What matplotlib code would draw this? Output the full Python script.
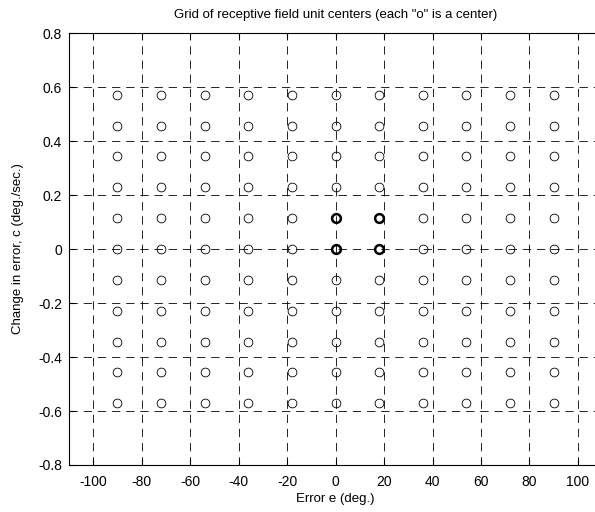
import numpy as np
import matplotlib
matplotlib.use('Agg')
import matplotlib.pyplot as plt

plt.rcParams['font.family'] = ['Liberation Sans', 'DejaVu Sans']
plt.rcParams['axes.unicode_minus'] = False

# centros de las unidades (error e y cambio en el error c)
e_centers = [-90, -72, -54, -36, -18, 0, 18, 36, 54, 72, 90]
c_centers = [-0.5714, -0.4571, -0.3429, -0.2286, -0.1143, 0.0,
             0.1143, 0.2286, 0.3429, 0.4571, 0.5714]

# centros destacados (en negrita)
bold_e = [0, 18, 0, 18]
bold_c = [0.0, 0.0, 0.1143, 0.1143]

x_ticks = [-100, -80, -60, -40, -20, 0, 20, 40, 60, 80, 100]
y_ticks = [-0.8, -0.6, -0.4, -0.2, 0, 0.2, 0.4, 0.6, 0.8]
y_ticklabels = ['-0.8', '-0.6', '-0.4', '-0.2', '0', '0.2', '0.4', '0.6', '0.8']

fig = plt.figure(figsize=(5.95, 5.12), dpi=100)
ax = fig.add_axes([0.116, 0.0918, 0.896, 0.8437])

E, C = np.meshgrid(e_centers, c_centers)
ax.plot(E.ravel(), C.ravel(), 'o', mfc='none', mec='black', ms=6.3, mew=0.6,
        linestyle='none')
ax.plot(bold_e, bold_c, 'o', mfc='none', mec='black', ms=6.3, mew=1.8,
        linestyle='none')

ax.set_xlim(-110, 110)
ax.set_ylim(-0.8, 0.8)
ax.set_xticks(x_ticks)
ax.set_yticks(y_ticks)
ax.set_yticklabels(y_ticklabels)
ax.tick_params(direction='in', top=True, right=True, labelsize=10, length=4)
ax.tick_params(axis='x', pad=7)
ax.tick_params(axis='y', pad=5)
ax.grid(True, color='black', linestyle=(0, (10, 7)), linewidth=0.6)
ax.set_axisbelow(True)
for s in ax.spines.values():
    s.set_linewidth(0.8)

ax.set_xlabel('Error e (deg.)', fontsize=9.5, labelpad=3)
ax.set_ylabel('Change in error, c (deg./sec.)', fontsize=9.5, labelpad=10)
ax.set_title('Grid of receptive field unit centers (each "o" is a center)',
             fontsize=9.5, pad=11)

fig.savefig('out.png', dpi=100)
